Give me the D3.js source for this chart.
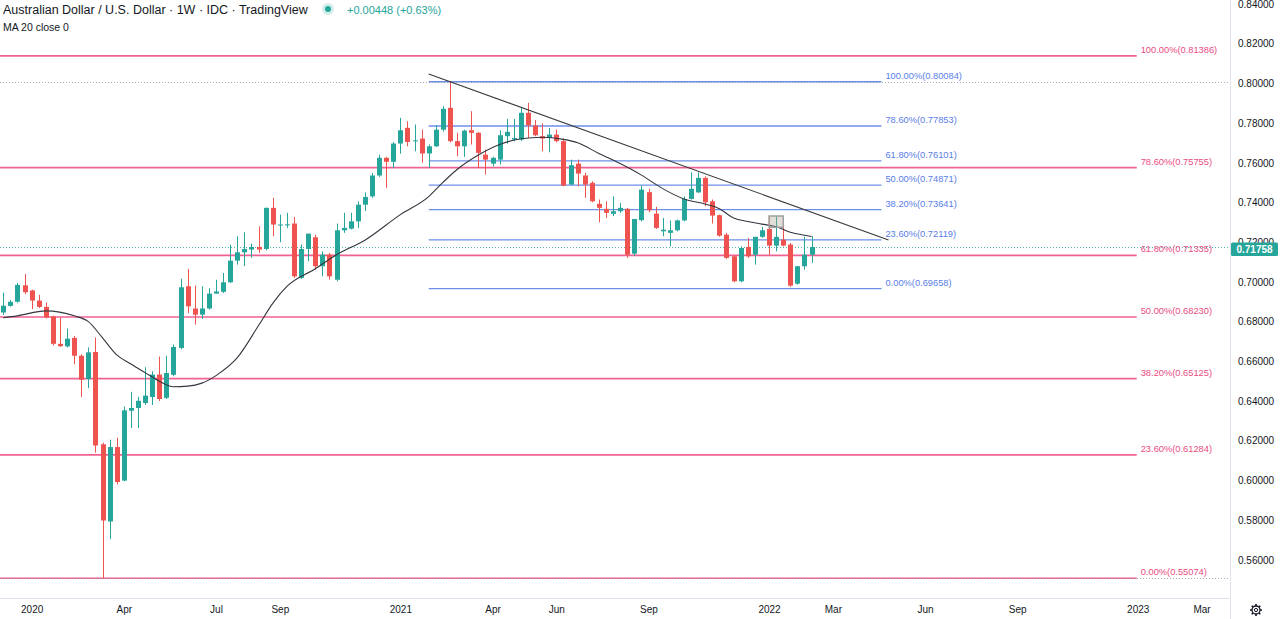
<!DOCTYPE html>
<html>
<head>
<meta charset="utf-8">
<script src="https://cdn.jsdelivr.net/npm/d3@7"></script>
<style>
body{margin:0;background:#fff;overflow:hidden;}
svg{display:block;font-family:"Liberation Sans",Arial,sans-serif;}
</style>
</head>
<body>
<script>
//weekly candles, first bar is the week of 9 Dec 2019
const firstWeek = "2019-12-09";
const opens = [0.6846,0.6879,0.6900,0.6983,0.6957,0.6906,0.6874,0.6826,0.6688,0.6675,
	0.6718,0.6628,0.6511,0.6647,0.6182,0.5793,0.6168,0.5999,0.6351,0.6365,
	0.6390,0.6420,0.6533,0.6416,0.6532,0.6667,0.6978,0.6866,0.6835,0.6866,
	0.6941,0.6950,0.6998,0.7107,0.7149,0.7163,0.7176,0.7166,0.7373,0.7286,
	0.7288,0.7294,0.7020,0.7166,0.7225,0.7079,0.7137,0.7011,0.7260,0.7268,
	0.7305,0.7389,0.7431,0.7536,0.7625,0.7605,0.7697,0.7776,0.7708,0.7722,
	0.7647,0.7683,0.7767,0.7877,0.7709,0.7683,0.7764,0.7751,0.7641,0.7596,
	0.7616,0.7734,0.7717,0.7717,0.7852,0.7788,0.7734,0.7726,0.7742,0.7709,
	0.7490,0.7596,0.7536,0.7499,0.7393,0.7368,0.7343,0.7356,0.7368,0.7142,
	0.7311,0.7452,0.7344,0.7255,0.7247,0.7260,0.7310,0.7418,0.7451,0.7524,
	0.7406,0.7336,0.7238,0.7129,0.7003,0.7176,0.7137,0.7227,0.7267,0.7183,
	0.7213,0.7188,0.6991,0.7079,0.7137];
const highs = [0.6946,0.6908,0.6995,0.7040,0.6961,0.6935,0.6897,0.6830,0.6820,0.6765,
	0.6727,0.6635,0.6670,0.6720,0.6190,0.6205,0.6215,0.6373,0.6446,0.6421,
	0.6570,0.6550,0.6624,0.6628,0.6685,0.7016,0.7065,0.6981,0.6978,0.6968,
	0.7011,0.7045,0.7188,0.7230,0.7250,0.7193,0.7280,0.7375,0.7423,0.7339,
	0.7348,0.7327,0.7188,0.7243,0.7238,0.7154,0.7146,0.7294,0.7348,0.7348,
	0.7406,0.7451,0.7549,0.7641,0.7630,0.7704,0.7826,0.7809,0.7793,0.7767,
	0.7692,0.7790,0.7885,0.8007,0.7751,0.7767,0.7860,0.7755,0.7667,0.7630,
	0.7764,0.7821,0.7821,0.7877,0.7902,0.7815,0.7798,0.7776,0.7767,0.7722,
	0.7616,0.7616,0.7549,0.7507,0.7415,0.7406,0.7431,0.7398,0.7373,0.7317,
	0.7485,0.7469,0.7378,0.7322,0.7310,0.7314,0.7431,0.7552,0.7552,0.7532,
	0.7415,0.7339,0.7247,0.7132,0.7179,0.7221,0.7227,0.7277,0.7330,0.7330,
	0.7277,0.7196,0.7079,0.7227,0.7230];
const lows = [0.6834,0.6875,0.6895,0.6938,0.6863,0.6868,0.6816,0.6680,0.6673,0.6670,
	0.6585,0.6420,0.6465,0.6140,0.5508,0.5704,0.5980,0.5996,0.6264,0.6264,
	0.6380,0.6380,0.6400,0.6410,0.6525,0.6661,0.6843,0.6785,0.6813,0.6861,
	0.6941,0.6944,0.6995,0.7087,0.7080,0.7121,0.7146,0.7159,0.7230,0.7200,
	0.7272,0.7020,0.7015,0.7104,0.7062,0.7028,0.7011,0.7003,0.7247,0.7264,
	0.7272,0.7356,0.7423,0.7529,0.7474,0.7574,0.7646,0.7683,0.7658,0.7600,
	0.7574,0.7680,0.7757,0.7703,0.7633,0.7630,0.7692,0.7574,0.7541,0.7582,
	0.7591,0.7697,0.7708,0.7709,0.7726,0.7734,0.7658,0.7653,0.7703,0.7482,
	0.7490,0.7482,0.7423,0.7401,0.7300,0.7322,0.7331,0.7348,0.7121,0.7132,
	0.7305,0.7351,0.7267,0.7230,0.7179,0.7255,0.7305,0.7415,0.7448,0.7381,
	0.7294,0.7228,0.7116,0.6998,0.6998,0.7121,0.7087,0.7222,0.7137,0.7154,
	0.7179,0.6975,0.6986,0.7062,0.7096];
const closes = [0.6880,0.6900,0.6985,0.6948,0.6906,0.6874,0.6821,0.6688,0.6676,0.6714,
	0.6628,0.6507,0.6645,0.6176,0.5798,0.6168,0.5992,0.6353,0.6365,0.6401,
	0.6427,0.6533,0.6410,0.6541,0.6672,0.6973,0.6877,0.6835,0.6866,0.6941,
	0.6952,0.6998,0.7107,0.7149,0.7166,0.7176,0.7163,0.7373,0.7289,0.7289,
	0.7290,0.7028,0.7166,0.7243,0.7079,0.7137,0.7028,0.7260,0.7272,0.7305,
	0.7389,0.7428,0.7536,0.7625,0.7605,0.7697,0.7764,0.7705,0.7713,0.7647,
	0.7683,0.7767,0.7872,0.7709,0.7683,0.7762,0.7751,0.7650,0.7616,0.7625,
	0.7739,0.7756,0.7725,0.7852,0.7788,0.7739,0.7722,0.7742,0.7709,0.7485,
	0.7588,0.7546,0.7490,0.7406,0.7373,0.7348,0.7356,0.7373,0.7137,0.7317,
	0.7465,0.7361,0.7272,0.7263,0.7260,0.7310,0.7418,0.7469,0.7524,0.7401,
	0.7334,0.7233,0.7121,0.7003,0.7171,0.7129,0.7227,0.7260,0.7183,0.7227,
	0.7183,0.6981,0.7079,0.7137,0.71758];

//MA 20 line: bar index and value
const maBars = [0,2,6,10,12,14,16,18,20,22,24,26,28,30,33,36,38,40,44,47,51,56,60,62,64,67,70,73,76,79,81,84,87,90,93,96,99,101,103,105,107,109,111,113,114];
const maValues = [0.6819,0.6829,0.6854,0.6829,0.6800,0.6718,0.6632,0.6586,0.6543,0.6500,0.6472,0.6475,0.6490,0.6528,0.6618,0.6780,0.6892,0.6977,0.7066,0.7137,0.7210,0.7339,0.7430,0.7501,0.7566,0.7639,0.7692,0.7721,0.7729,0.7718,0.7701,0.7647,0.7596,0.7538,0.7470,0.7418,0.7392,0.7369,0.7322,0.7304,0.7291,0.7278,0.7250,0.7235,0.7229];

//fibonacci retracement, long one (pink)
const fibLongLevels = ["100.00%","78.60%","61.80%","50.00%","38.20%","23.60%","0.00%"];
const fibLongPrices = [0.81386,0.75755,0.71335,0.68230,0.65125,0.61284,0.55074];
const fibLongEnd = "2023-01-01";

//fibonacci retracement, short one (blue)
const fibShortLevels = ["100.00%","78.60%","61.80%","50.00%","38.20%","23.60%","0.00%"];
const fibShortPrices = [0.80084,0.77853,0.76101,0.74871,0.73641,0.72119,0.69658];
const fibShortRange = ["2021-02-01","2022-04-24"];

//trend line and highlight box
const trendDates = ["2021-02-01","2022-05-01"];
const trendPrices = [0.80474,0.72111];
const boxDates = ["2022-01-03","2022-01-17"];
const boxPrices = [0.7332,0.7275];

const highPrice = 0.80084;
const lowPrice = 0.55074;
const lastPrice = 0.71758;

//axis ticks
const priceTicks = [0.56,0.58,0.60,0.62,0.64,0.66,0.68,0.70,0.72,0.74,0.76,0.78,0.80,0.82,0.84];
const timeTickDates = ["2020-01-06","2020-04-06","2020-07-06","2020-09-07","2021-01-04","2021-04-05","2021-06-07","2021-09-06","2022-01-03","2022-03-07","2022-06-06","2022-09-05","2023-01-02","2023-03-06"];
const timeTickLabels = ["2020","Apr","Jul","Sep","2021","Apr","Jun","Sep","2022","Mar","Jun","Sep","2023","Mar"];

const up = "#26a69a", down = "#ef5350";
const pink = "#f06292", pinkText = "#e94b82", blue = "#6e8fe8", blueText = "#5a7ee6";

const width = 1280, height = 619;
const plotRight = 1230, plotBottom = 598;

var parse = d3.utcParse("%Y-%m-%d");
var start = parse(firstWeek);
function barDate(i){ return d3.utcWeek.offset(start, i); }

var bars = closes.map(function(c, i){
	return {date: barDate(i), o: opens[i], h: highs[i], l: lows[i], c: c};
});

//scales
var xScale = d3.scaleUtc()
	.domain([start, parse("2023-04-03")])
	.range([3.3, 1229.9]);
var yScale = d3.scaleLinear()
	.domain([0.54, 0.84])
	.range([599.5, 4]);

var svg = d3.select("body").append("svg")
	.attr("width", width)
	.attr("height", height);

svg.append("defs").append("clipPath").attr("id", "plot")
	.append("rect").attr("width", plotRight).attr("height", plotBottom);

var plot = svg.append("g").attr("clip-path", "url(#plot)");

//long fib lines
plot.append("g").selectAll("line")
	.data(fibLongPrices)
	.enter().append("line")
	.attr("x1", 0)
	.attr("x2", xScale(parse(fibLongEnd)))
	.attr("y1", function(d){ return yScale(d); })
	.attr("y2", function(d){ return yScale(d); })
	.attr("stroke", pink)
	.attr("stroke-width", 1.6);

//short fib lines
plot.append("g").selectAll("line")
	.data(fibShortPrices)
	.enter().append("line")
	.attr("x1", xScale(parse(fibShortRange[0])))
	.attr("x2", xScale(parse(fibShortRange[1])))
	.attr("y1", function(d){ return yScale(d); })
	.attr("y2", function(d){ return yScale(d); })
	.attr("stroke", blue)
	.attr("stroke-width", 1.3);

//dotted high / low / last price lines
[[highPrice, "#9598a1"], [lowPrice, "#9598a1"], [lastPrice, up]].forEach(function(p){
	plot.append("line")
		.attr("x1", 0).attr("x2", plotRight)
		.attr("y1", Math.round(yScale(p[0])) + 0.5)
		.attr("y2", Math.round(yScale(p[0])) + 0.5)
		.attr("stroke", p[1])
		.attr("stroke-opacity", 0.8)
		.attr("stroke-dasharray", "1,2");
});

//fib labels
plot.append("g").selectAll("text")
	.data(fibLongPrices)
	.enter().append("text")
	.attr("x", xScale(parse(fibLongEnd)) + 4)
	.attr("y", function(d){ return yScale(d) - 3; })
	.attr("fill", pinkText)
	.attr("font-size", 9.3)
	.text(function(d, i){ return fibLongLevels[i] + "(" + d3.format(".5f")(d) + ")"; });

plot.append("g").selectAll("text")
	.data(fibShortPrices)
	.enter().append("text")
	.attr("x", xScale(parse(fibShortRange[1])) + 4)
	.attr("y", function(d){ return yScale(d) - 3; })
	.attr("fill", blueText)
	.attr("font-size", 9.3)
	.text(function(d, i){ return fibShortLevels[i] + "(" + d3.format(".5f")(d) + ")"; });

//candles
var candle = plot.append("g").selectAll("g")
	.data(bars)
	.enter().append("g")
	.attr("fill", function(d){ return d.c >= d.o ? up : down; })
	.attr("stroke", function(d){ return d.c >= d.o ? up : down; });

candle.append("line")
	.attr("x1", function(d){ return Math.round(xScale(d.date)) + 0.5; })
	.attr("x2", function(d){ return Math.round(xScale(d.date)) + 0.5; })
	.attr("y1", function(d){ return yScale(d.h); })
	.attr("y2", function(d){ return yScale(d.l); })
	.attr("stroke-width", 1);

candle.append("rect")
	.attr("stroke", "none")
	.attr("x", function(d){ return Math.round(xScale(d.date)) - 2; })
	.attr("width", 5)
	.attr("y", function(d){ return yScale(Math.max(d.o, d.c)); })
	.attr("height", function(d){ return Math.max(1, Math.abs(yScale(d.o) - yScale(d.c))); });

//moving average
var maLine = d3.line()
	.x(function(d){ return xScale(barDate(d)); })
	.y(function(d, i){ return yScale(maValues[i]); })
	.curve(d3.curveMonotoneX);

plot.append("path")
	.attr("d", maLine(maBars))
	.attr("fill", "none")
	.attr("stroke", "#33363f")
	.attr("stroke-width", 1.1);

//trend line
plot.append("line")
	.attr("x1", xScale(parse(trendDates[0])))
	.attr("y1", yScale(trendPrices[0]))
	.attr("x2", xScale(parse(trendDates[1])))
	.attr("y2", yScale(trendPrices[1]))
	.attr("stroke", "#3a3a3a")
	.attr("stroke-width", 1.1);

//highlight box
plot.append("rect")
	.attr("x", xScale(parse(boxDates[0])))
	.attr("y", yScale(boxPrices[0]))
	.attr("width", xScale(parse(boxDates[1])) - xScale(parse(boxDates[0])))
	.attr("height", yScale(boxPrices[1]) - yScale(boxPrices[0]))
	.attr("fill", "rgba(170,160,140,0.35)")
	.attr("stroke", "#a0a0a0")
	.attr("stroke-width", 1.5);

//axis borders
svg.append("line")
	.attr("x1", plotRight + 0.5).attr("x2", plotRight + 0.5)
	.attr("y1", 0).attr("y2", height)
	.attr("stroke", "#e0e3eb");
svg.append("line")
	.attr("x1", 0).attr("x2", plotRight)
	.attr("y1", plotBottom + 0.5).attr("y2", plotBottom + 0.5)
	.attr("stroke", "#e0e3eb");

//price axis
var yAxis = d3.axisRight(yScale)
	.tickValues(priceTicks)
	.tickFormat(d3.format(".5f"))
	.tickSize(0)
	.tickPadding(8);

svg.append("g")
	.attr("transform", "translate(" + plotRight + ",0)")
	.call(yAxis)
	.call(function(g){ g.select(".domain").remove(); })
	.selectAll("text")
	.attr("fill", "#131722")
	.attr("font-size", 10)
	.attr("font-family", "Liberation Sans, Arial, sans-serif");

//last price label, drawn over the axis like the original
var lastY = yScale(lastPrice);
svg.append("rect")
	.attr("x", plotRight + 1)
	.attr("y", lastY - 4.5)
	.attr("width", 47)
	.attr("height", 13.5)
	.attr("rx", 1.5)
	.attr("fill", up);
svg.append("text")
	.attr("x", plotRight + 24.5)
	.attr("y", lastY + 5.8)
	.attr("text-anchor", "middle")
	.attr("fill", "#fff")
	.attr("font-size", 10)
	.attr("font-weight", "bold")
	.text(d3.format(".5f")(lastPrice));

//time axis
var xAxis = d3.axisBottom(xScale)
	.tickValues(timeTickDates.map(parse))
	.tickFormat(function(d, i){ return timeTickLabels[i]; })
	.tickSize(0)
	.tickPadding(8);

svg.append("g")
	.attr("transform", "translate(0," + plotBottom + ")")
	.call(xAxis)
	.call(function(g){ g.select(".domain").remove(); })
	.selectAll("text")
	.attr("fill", "#131722")
	.attr("font-size", 10)
	.attr("font-family", "Liberation Sans, Arial, sans-serif");

//gear icon
var gear = svg.append("g")
	.attr("transform", "translate(1256,610)")
	.attr("stroke", "#131722")
	.attr("fill", "none");
gear.append("circle").attr("r", 4).attr("stroke-width", 1.3);
gear.append("circle").attr("r", 1.6).attr("stroke-width", 1);
d3.range(8).forEach(function(k){
	var a = k * Math.PI / 4;
	gear.append("line")
		.attr("x1", Math.cos(a) * 4).attr("y1", Math.sin(a) * 4)
		.attr("x2", Math.cos(a) * 6).attr("y2", Math.sin(a) * 6)
		.attr("stroke-width", 1.6);
});

//legend texts
svg.append("text")
	.attr("x", 3)
	.attr("y", 14)
	.attr("fill", "#131722")
	.attr("font-size", 12.5)
	.text("Australian Dollar / U.S. Dollar · 1W · IDC · TradingView");

svg.append("circle").attr("cx", 328).attr("cy", 9).attr("r", 6).attr("fill", up).attr("fill-opacity", 0.2);
svg.append("circle").attr("cx", 328).attr("cy", 9).attr("r", 3).attr("fill", up);

svg.append("text")
	.attr("x", 347)
	.attr("y", 14)
	.attr("fill", up)
	.attr("font-size", 11)
	.text("+0.00448 (+0.63%)");

svg.append("text")
	.attr("x", 3)
	.attr("y", 31)
	.attr("fill", "#131722")
	.attr("font-size", 10.5)
	.text("MA 20 close 0");
</script>
</body>
</html>
